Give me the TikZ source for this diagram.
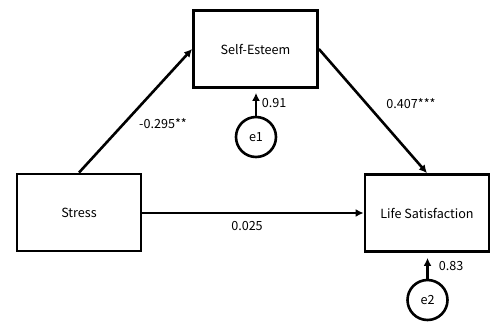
\documentclass[tikz,border=0pt]{standalone}
\usepackage{fontspec}
\setmainfont{Noto Sans CJK KR}
\usetikzlibrary{arrows.meta}
\begin{document}
\begin{tikzpicture}[x=1pt,y=-1pt,
  font=\fontsize{12.6}{14}\selectfont,
  var/.style={draw,line width=2.8pt,minimum width=124pt,minimum height=77pt,inner sep=0pt},
  err/.style={draw,circle,line width=2.6pt,minimum size=40pt,inner sep=0pt},
  path/.style={line width=2.6pt,-{Latex[length=8pt,width=8pt]}},
  coef/.style={inner sep=0pt}]
  \useasboundingbox (0,0) rectangle (492,322);
  % observed variables
  \node[var] (se) at (255.5,49) {Self-Esteem};
  \node[var] (st) at (79,212.5) {Stress};
  \node[var] (ls) at (427,213) {Life Satisfaction};
  % error terms
  \node[err] (e1) at (256,137) {e1};
  \node[err] (e2) at (427.5,300) {e2};
  % structural paths
  \draw[path] (st.north) -- (se.west);
  \draw[path] (se.east) -- (ls.north);
  \draw[path] (st.east |- 0,213) -- (ls.west |- 0,213);
  \draw[path,shorten >=4pt] (e1.north) -- (e1 |- se.south);
  \draw[path,shorten >=5pt] (e2.north) -- (e2 |- ls.south);
  % coefficients
  \node[coef] (c1) at (163,124) {-0.295**};
  \node[coef] (c2) at (411,104) {0.407***};
  \node[coef] (c3) at (247,226) {0.025};
  \node[coef] (c4) at (274,103) {0.91};
  \node[coef] (c5) at (451,266) {0.83};
\end{tikzpicture}
\end{document}
